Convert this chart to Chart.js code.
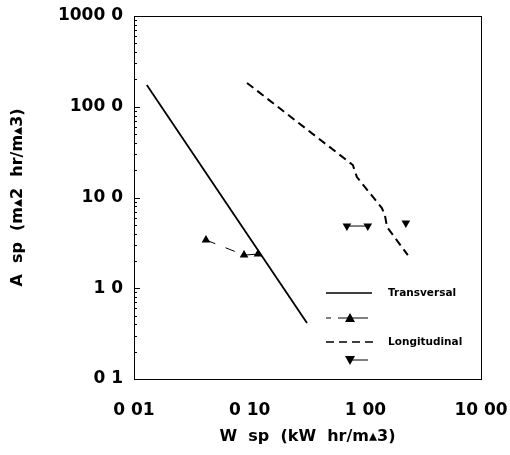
<!DOCTYPE html>
<html>
<head>
<meta charset="utf-8">
<script src="https://cdn.jsdelivr.net/npm/chart.js@4.4.1/dist/chart.umd.min.js"></script>
<style>
  html, body { margin: 0; padding: 0; background: #fff; }
  #wrap { width: 510px; height: 455px; }
</style>
</head>
<body>
<div id="wrap"><canvas id="chart"></canvas></div>
<script>
// values
const transX = [0.0129, 0.313];
const transY = [174, 0.414];
const upX = [0.0419, 0.0894, 0.118];
const upY = [3.4, 2.32, 2.38];
const longX = [0.0948, 0.78, 0.845, 1.39, 1.476, 1.54, 2.33];
const longY = [183, 22.8, 16.8, 7.66, 6.41, 4.73, 2.32];
const downX = [0.693, 1.05, 2.24];
const downY = [4.85, 4.85, 5.24];

const xTicks = [0.01, 0.1, 1, 10];
const xTickLabels = ['0 01', '0 10', '1 00', '10 00'];
const yTicks = [0.1, 1, 10, 100, 1000];
const yTickLabels = ['0 1', '1 0', '10 0', '100 0', '1000 0'];

const pts = (xs, ys) => xs.map((x, i) => ({ x: x, y: ys[i] }));

function logTicks(min, max) {
  const out = [];
  for (let d = min; d < max * 1.001; d *= 10) {
    for (let m = 1; m <= 9; m++) {
      const v = +(d * m).toPrecision(3);
      if (v <= max * 1.001) out.push({ value: v });
      if (v >= max) break;
    }
  }
  return out;
}

function labelFor(vals, labels) {
  return v => {
    const i = vals.findIndex(t => Math.abs(Math.log10(t) - Math.log10(v)) < 1e-6);
    return i >= 0 ? labels[i] : '';
  };
}

// keep the plot box where the reference has it, labels may overhang
function noPad(s) {
  s.paddingLeft = 0; s.paddingRight = 0;
  s.paddingTop = 0; s.paddingBottom = 0;
}

// frame, inward ticks and the little legend box
const framePlugin = {
  id: 'frame',
  afterDatasetsDraw(chart) {
    const { ctx, chartArea: a, scales } = chart;
    ctx.save();
    ctx.strokeStyle = '#000';
    ctx.lineWidth = 1;
    ctx.strokeRect(a.left + 0.5, a.top + 0.5, a.right - a.left, a.bottom - a.top);

    const isMajor = labelFor(yTicks, yTickLabels);
    scales.y.ticks.forEach(t => {
      const y = Math.round(scales.y.getPixelForValue(t.value)) + 0.5;
      const len = isMajor(t.value) ? 6 : 3;
      ctx.beginPath();
      ctx.moveTo(a.left, y);
      ctx.lineTo(a.left + len, y);
      ctx.stroke();
    });

    // legend
    const x0 = a.left + 192, x1 = a.left + 238, tx = a.left + 254;
    const rows = [a.top + 277, a.top + 302, a.top + 326, a.top + 344];
    ctx.font = 'bold 10.5px "DejaVu Sans"';
    ctx.fillStyle = '#000';
    ctx.textBaseline = 'middle';

    ctx.lineWidth = 1.5;
    ctx.beginPath(); ctx.moveTo(x0, rows[0]); ctx.lineTo(x1, rows[0]); ctx.stroke();
    ctx.fillText('Transversal', tx, rows[0]);

    ctx.lineWidth = 1;
    ctx.beginPath(); ctx.moveTo(x0, rows[1]); ctx.lineTo(x0 + 5, rows[1]);
    ctx.moveTo(x0 + 12, rows[1]); ctx.lineTo(x1 - 4, rows[1]); ctx.stroke();
    tri(ctx, x0 + 24, rows[1], 5, false);

    ctx.lineWidth = 1.5;
    ctx.setLineDash([8, 5]);
    ctx.beginPath(); ctx.moveTo(x0, rows[2]); ctx.lineTo(x1 + 2, rows[2]); ctx.stroke();
    ctx.setLineDash([]);
    ctx.fillText('Longitudinal', tx, rows[2]);

    ctx.lineWidth = 1;
    ctx.beginPath(); ctx.moveTo(x0 + 24, rows[3]); ctx.lineTo(x1 - 4, rows[3]); ctx.stroke();
    tri(ctx, x0 + 24, rows[3], 5, true);
    ctx.restore();
  }
};

function tri(ctx, x, y, r, down) {
  const s = down ? -1 : 1;
  ctx.beginPath();
  ctx.moveTo(x, y - s * r);
  ctx.lineTo(x - r, y + s * r * 0.8);
  ctx.lineTo(x + r, y + s * r * 0.8);
  ctx.closePath();
  ctx.fill();
}

const tickFont = { family: '"DejaVu Sans"', size: 17, weight: 'bold' };
const titleFont = { family: '"DejaVu Sans"', size: 16, weight: 'bold' };

new Chart(document.getElementById('chart'), {
  type: 'line',
  data: {
    datasets: [
      {
        label: 'Transversal',
        data: pts(transX, transY),
        borderColor: '#000',
        borderWidth: 1.8,
        pointRadius: 0
      },
      {
        label: 'Transversal (measured)',
        data: pts(upX, upY),
        borderColor: '#000',
        borderWidth: 1,
        borderDash: [10, 11],
        pointStyle: 'triangle',
        pointRadius: 5,
        pointBackgroundColor: '#000',
        pointBorderColor: '#000',
        pointBorderWidth: 0
      },
      {
        label: 'Longitudinal',
        data: pts(longX, longY),
        borderColor: '#000',
        borderWidth: 2,
        borderDash: [8, 5],
        pointRadius: 0
      },
      {
        label: 'Longitudinal (measured)',
        data: pts(downX, downY),
        borderColor: '#000',
        borderWidth: 1,
        pointStyle: 'triangle',
        rotation: 180,
        pointRadius: 5,
        pointBackgroundColor: '#000',
        pointBorderColor: '#000',
        pointBorderWidth: 0,
        segment: {
          borderColor: c => c.p1DataIndex === 2 ? 'rgba(0,0,0,0)' : '#000'
        }
      }
    ]
  },
  options: {
    responsive: true,
    maintainAspectRatio: false,
    animation: false,
    layout: { padding: { top: 16, right: 29, left: 0, bottom: 0 } },
    plugins: { legend: { display: false }, tooltip: { enabled: false } },
    scales: {
      x: {
        type: 'logarithmic',
        min: 0.01,
        max: 10,
        afterBuildTicks: s => { s.ticks = logTicks(0.01, 10); },
        afterFit: s => { s.height = 76; noPad(s); },
        grid: { display: false },
        border: { display: false },
        ticks: {
          autoSkip: false,
          maxRotation: 0,
          padding: 13,
          color: '#000',
          font: tickFont,
          callback: labelFor(xTicks, xTickLabels)
        },
        title: {
          display: true,
          text: 'W  sp  (kW  hr/m\u25B43)',
          color: '#000',
          font: titleFont,
          padding: { top: 0, bottom: 9 }
        }
      },
      y: {
        type: 'logarithmic',
        min: 0.1,
        max: 1000,
        afterBuildTicks: s => { s.ticks = logTicks(0.1, 1000); },
        afterFit: s => { s.width = 134; noPad(s); },
        grid: { display: false },
        border: { display: false },
        ticks: {
          autoSkip: false,
          padding: 3,
          color: '#000',
          font: tickFont,
          callback: labelFor(yTicks, yTickLabels)
        },
        title: {
          display: true,
          text: 'A  sp  (m\u25B42  hr/m\u25B43)',
          color: '#000',
          font: titleFont,
          padding: { top: 8, bottom: 0 }
        }
      }
    }
  },
  plugins: [framePlugin]
});
</script>
</body>
</html>
